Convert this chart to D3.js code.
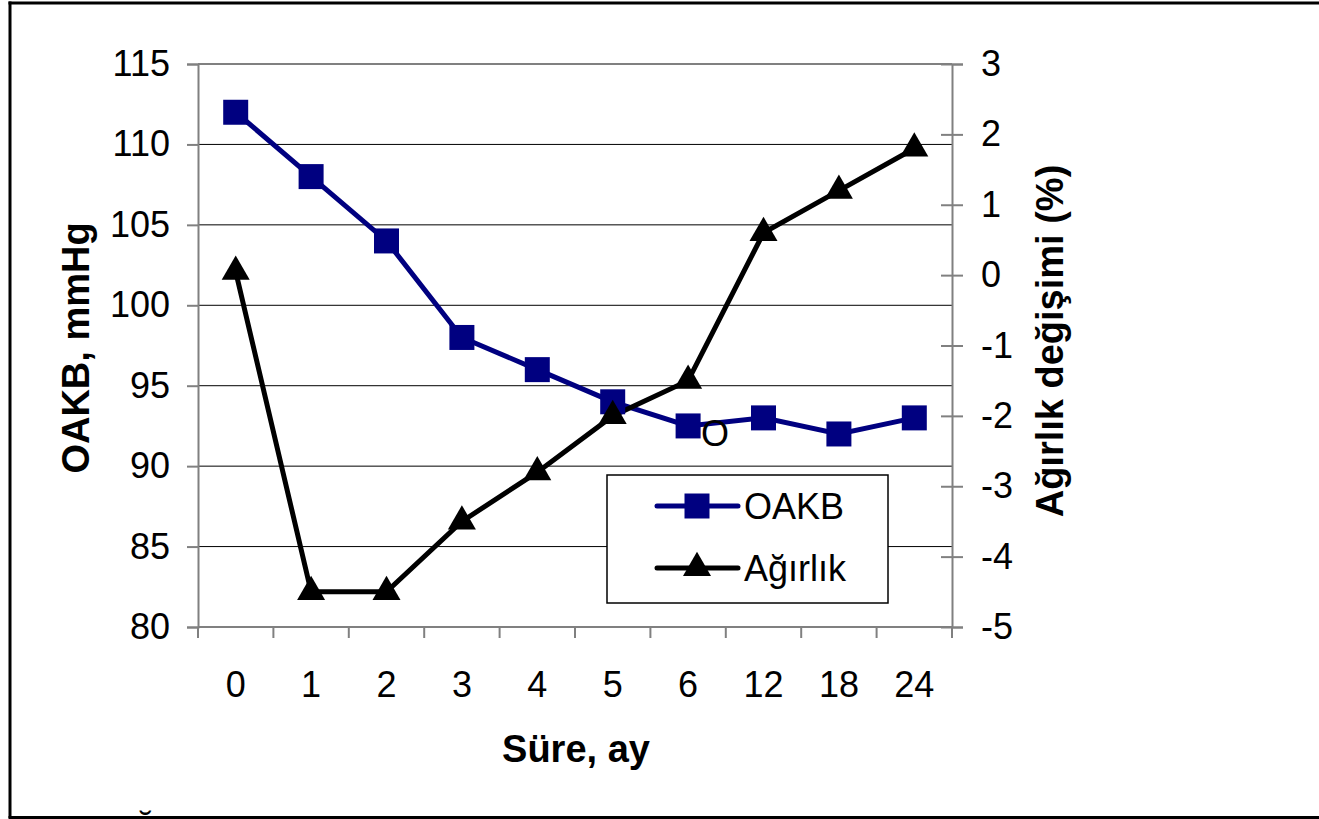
<!DOCTYPE html>
<html><head><meta charset="utf-8">
<script src="https://cdn.jsdelivr.net/npm/d3@7"></script>
<style>html,body{margin:0;background:#fff;overflow:hidden}svg{display:block;font-family:"Liberation Sans",Arial,sans-serif}</style>
</head><body>
<svg id="c" width="1319" height="819"></svg>
<script>
const categories = ["0","1","2","3","4","5","6","12","18","24"];
const oakb = [112,108,104,98,96,94,92.5,93,92,93];
const agirlik = [0.05,-4.5,-4.5,-3.5,-2.8,-2.0,-1.5,0.6,1.2,1.8];
const leftTicks = [80,85,90,95,100,105,110,115];
const rightTicks = [-5,-4,-3,-2,-1,0,1,2,3];
const seriesNames = ["OAKB","Ağırlık"];

const svg = d3.select("#c");
const L=198,R=952,T=64,B=627;
const x = d3.scaleBand().domain(categories).range([L,R]);
const yL = d3.scaleLinear().domain([80,115]).range([B,T]);
const yR = d3.scaleLinear().domain([-5,3]).range([B,T]);

// outer border (top, left, bottom; right edge lies outside the picture)
const border = svg.append("g").attr("stroke","#000").attr("stroke-width",3);
border.append("line").attr("x1",8.5).attr("x2",1319).attr("y1",3).attr("y2",3);
border.append("line").attr("x1",10).attr("x2",10).attr("y1",1.5).attr("y2",818);
border.append("line").attr("x1",8.5).attr("x2",1319).attr("y1",817.5).attr("y2",817.5);

// gridlines
svg.append("g").selectAll("line").data(leftTicks.filter(d=>d>80&&d<115)).join("line")
  .attr("x1",L).attr("x2",R).attr("y1",d=>yL(d)).attr("y2",d=>yL(d))
  .attr("stroke","#000").attr("stroke-width",1);
// top border line
svg.append("line").attr("x1",L).attr("x2",R).attr("y1",T).attr("y2",T).attr("stroke","#808080").attr("stroke-width",2);

// left axis
const gL = svg.append("g").attr("transform",`translate(${L},0)`)
  .call(d3.axisLeft(yL).tickValues(leftTicks).tickSize(11).tickPadding(17).tickFormat(d3.format("d")));
// right axis
const gR = svg.append("g").attr("transform",`translate(${R},0)`)
  .call(d3.axisRight(yR).tickValues(rightTicks).tickSize(11).tickPadding(18).tickFormat(d=>String(d)));
gR.selectAll(".tick line").attr("x1",-11);
// bottom axis
const gB = svg.append("g").attr("transform",`translate(0,${B})`)
  .call(d3.axisBottom(x).tickSize(0).tickPadding(44));
gB.append("g").selectAll("line").data(categories.map(c=>x(c)).concat([R])).join("line")
  .attr("x1",d=>d).attr("x2",d=>d).attr("y1",0).attr("y2",11).attr("stroke","#808080").attr("stroke-width",2);

[gL,gR,gB].forEach(g=>{
  g.select(".domain").attr("stroke","#808080").attr("stroke-width",2);
  g.selectAll(".tick line").attr("stroke","#808080").attr("stroke-width",2);
  g.selectAll(".tick text").attr("font-size",36).attr("fill","#000").attr("font-family","Liberation Sans, Arial, sans-serif");
});
gB.select(".domain").attr("d",`M${L},0H${R}`);

// series
const cx = c=>x(c)+x.bandwidth()/2;
const lineL = d3.line().x((d,i)=>cx(categories[i])).y(d=>yL(d));
const lineR = d3.line().x((d,i)=>cx(categories[i])).y(d=>yR(d));
svg.append("path").attr("d",lineL(oakb)).attr("fill","none").attr("stroke","#000080").attr("stroke-width",5);
svg.append("path").attr("d",lineR(agirlik)).attr("fill","none").attr("stroke","#000").attr("stroke-width",5);
const sq = d3.symbol().type(d3.symbolSquare).size(625);
const tri = d3.symbol().type(d3.symbolTriangle).size(340);
svg.append("g").selectAll("path").data(oakb).join("path")
  .attr("transform",(d,i)=>`translate(${cx(categories[i])},${yL(d)})`).attr("d",sq).attr("fill","#000080");
svg.append("g").selectAll("path").data(agirlik).join("path")
  .attr("transform",(d,i)=>`translate(${cx(categories[i])},${yR(d)})`).attr("d",tri).attr("fill","#000");

// stray text
svg.append("text").attr("x",715).attr("y",446).attr("text-anchor","middle").attr("font-size",36).text("O");
svg.append("text").attr("x",145).attr("y",843).attr("text-anchor","middle").attr("font-size",36).text("Ğ");

// legend
const lg = svg.append("g");
lg.append("rect").attr("x",607).attr("y",475).attr("width",281).attr("height",128).attr("fill","#fff").attr("stroke","#000").attr("stroke-width",1.5);
const ly = [506,568];
seriesNames.forEach((n,i)=>{
  lg.append("line").attr("x1",657).attr("x2",738).attr("y1",ly[i]).attr("y2",ly[i])
    .attr("stroke",i?"#000":"#000080").attr("stroke-width",5).attr("stroke-linecap","round");
  lg.append("path").attr("transform",`translate(697,${ly[i]})`).attr("d",i?tri:sq).attr("fill",i?"#000":"#000080");
  lg.append("text").attr("x",744).attr("y",ly[i]+13).attr("font-size",36).text(n);
});

// axis titles
svg.append("text").attr("transform","translate(89,348) rotate(-90)").attr("text-anchor","middle")
  .attr("font-size",38).attr("font-weight","bold").text("OAKB, mmHg");
svg.append("text").attr("transform","translate(1063,341) rotate(-90)").attr("text-anchor","middle")
  .attr("font-size",38).attr("font-weight","bold").text("Ağırlık değişimi (%)");
svg.append("text").attr("x",576).attr("y",762).attr("text-anchor","middle")
  .attr("font-size",38).attr("font-weight","bold").text("Süre, ay");
</script>
</body></html>
